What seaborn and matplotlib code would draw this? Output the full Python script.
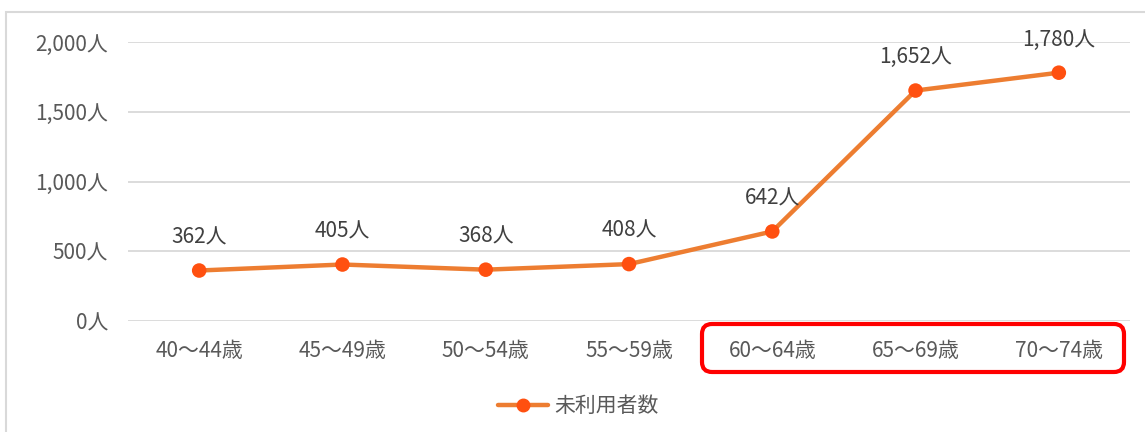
import pandas as pd
import matplotlib
matplotlib.use("Agg")
import matplotlib.pyplot as plt
import seaborn as sns
from matplotlib.lines import Line2D
from matplotlib.patches import FancyBboxPatch, Rectangle

# data
ages = ["40～44歳", "45～49歳", "50～54歳", "55～59歳", "60～64歳", "65～69歳", "70～74歳"]
users = [362, 405, 368, 408, 642, 1652, 1780]
yticks = [0, 500, 1000, 1500, 2000]
series_name = "未利用者数"

df = pd.DataFrame({"age": ages, "users": users})

sns.set_style("white")
plt.rcParams['font.family'] = ['Noto Sans CJK JP', 'DejaVu Sans']

line_col = "#ED7D31"
dot_col = "#FF5010"
tick_col = "#595959"

fig = plt.figure(figsize=(11.45, 4.32), dpi=100)
ax = fig.add_axes([0.1114, 0.2569, 0.8759, 0.6459])

sns.lineplot(data=df, x="age", y="users", color=line_col, linewidth=3.2, sort=False, ax=ax)
sns.scatterplot(data=df, x="age", y="users", color=dot_col, s=110, edgecolor="none", zorder=5, ax=ax)

for i, v in enumerate(users):
    ax.annotate(f"{v:,}人", (i, v), xytext=(0, 16), textcoords="offset points",
                ha="center", va="bottom", fontsize=15, color="#404040")

ax.set_xlim(-0.5, len(ages) - 0.5)
ax.set_ylim(0, 2000)
ax.set_yticks(yticks)
ax.set_yticklabels([f"{t:,}人" for t in yticks])
ax.yaxis.grid(True, color="#D9D9D9", linewidth=1.3)
ax.set_axisbelow(True)
for s in ax.spines.values():
    s.set_visible(False)
ax.tick_params(axis="both", length=0, labelsize=15, colors=tick_col)
ax.tick_params(axis="y", pad=14)
ax.tick_params(axis="x", pad=14)
ax.set_xlabel("")
ax.set_ylabel("")

# outer chart border
fig.patches.append(Rectangle((0.06, -0.1), 12, 4.3, transform=fig.dpi_scale_trans,
                             fill=False, edgecolor="#D9D9D9", linewidth=1.5))

# red highlight box
fig.patches.append(FancyBboxPatch((7.02, 0.60), 4.22, 0.48, transform=fig.dpi_scale_trans,
                                  boxstyle="round,pad=0,rounding_size=0.1",
                                  fill=False, edgecolor="#FF0000", linewidth=3))

handle = Line2D([], [], color=line_col, linewidth=3.2, marker="o",
                markersize=9, markerfacecolor=dot_col, markeredgecolor=dot_col)
fig.legend([handle], [series_name], loc="center", bbox_to_anchor=(578 / 1145, 1 - 406 / 432),
           frameon=False, fontsize=15, labelcolor=tick_col, handlelength=2.4, handletextpad=0.3)

fig.savefig("out.png", dpi=100)
